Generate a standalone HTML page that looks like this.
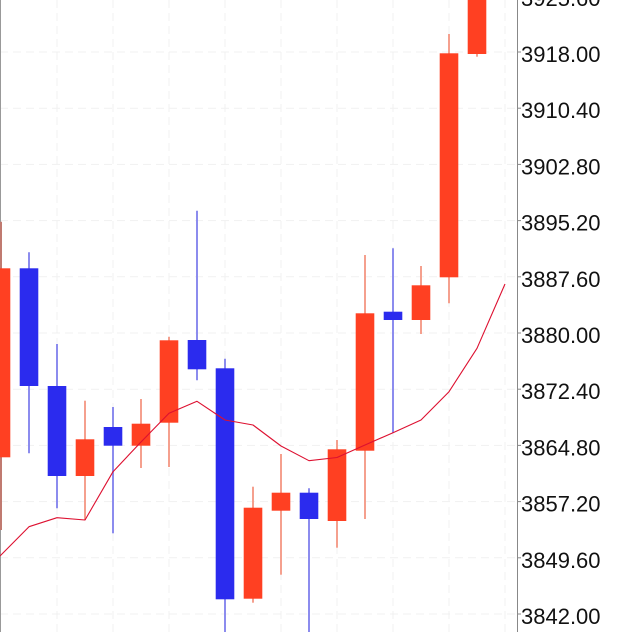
<!DOCTYPE html>
<html>
<head>
<meta charset="utf-8">
<style>
  html,body{margin:0;padding:0;background:#fff;}
  svg{display:block;}
  text{font-family:"Liberation Sans",sans-serif;font-size:22px;fill:#111;}
</style>
</head>
<body>
<svg width="632" height="632" viewBox="0 0 632 632" xmlns="http://www.w3.org/2000/svg">
  <rect x="0" y="0" width="632" height="632" fill="#fff"/>
  <!-- grid -->
  <g stroke="#f1f1f1" stroke-width="1" stroke-dasharray="8 5">
    <line x1="0" y1="52" x2="517" y2="52"/>
    <line x1="0" y1="108.2" x2="517" y2="108.2"/>
    <line x1="0" y1="164.4" x2="517" y2="164.4"/>
    <line x1="0" y1="220.6" x2="517" y2="220.6"/>
    <line x1="0" y1="276.8" x2="517" y2="276.8"/>
    <line x1="0" y1="333" x2="517" y2="333"/>
    <line x1="0" y1="389.2" x2="517" y2="389.2"/>
    <line x1="0" y1="445.4" x2="517" y2="445.4"/>
    <line x1="0" y1="501.6" x2="517" y2="501.6"/>
    <line x1="0" y1="557.8" x2="517" y2="557.8"/>
    <line x1="0" y1="614" x2="517" y2="614"/>
    <line x1="57" y1="0" x2="57" y2="632"/>
    <line x1="113" y1="0" x2="113" y2="632"/>
    <line x1="169" y1="0" x2="169" y2="632"/>
    <line x1="225" y1="0" x2="225" y2="632"/>
    <line x1="281" y1="0" x2="281" y2="632"/>
    <line x1="337" y1="0" x2="337" y2="632"/>
    <line x1="393" y1="0" x2="393" y2="632"/>
    <line x1="449" y1="0" x2="449" y2="632"/>
    <line x1="505" y1="0" x2="505" y2="632"/>
  </g>
  <!-- left edge line -->
  <line x1="0.5" y1="0" x2="0.5" y2="632" stroke="#999" stroke-width="1"/>

  <!-- wicks -->
  <g stroke-width="2">
    <line x1="1" y1="221.7" x2="1" y2="530" stroke="#c07a70"/>
    <line x1="29" y1="252.3" x2="29" y2="453.3" stroke="#8c8cee"/>
    <line x1="57" y1="344" x2="57" y2="508.3" stroke="#8c8cee"/>
    <line x1="85" y1="400.7" x2="85" y2="520" stroke="#f5a08e"/>
    <line x1="113" y1="407" x2="113" y2="533.3" stroke="#8c8cee"/>
    <line x1="141" y1="399" x2="141" y2="468" stroke="#f5a08e"/>
    <line x1="169" y1="336.7" x2="169" y2="467" stroke="#f5a08e"/>
    <line x1="197" y1="210.7" x2="197" y2="380.3" stroke="#8c8cee"/>
    <line x1="225" y1="358.7" x2="225" y2="632" stroke="#8c8cee"/>
    <line x1="253" y1="486.7" x2="253" y2="602.7" stroke="#f5a08e"/>
    <line x1="281" y1="454" x2="281" y2="574.7" stroke="#f5a08e"/>
    <line x1="309" y1="488.3" x2="309" y2="632" stroke="#8c8cee"/>
    <line x1="337" y1="440" x2="337" y2="547.7" stroke="#f5a08e"/>
    <line x1="365" y1="255" x2="365" y2="519" stroke="#f5a08e"/>
    <line x1="393" y1="248.3" x2="393" y2="432.7" stroke="#8c8cee"/>
    <line x1="421" y1="266" x2="421" y2="334" stroke="#f5a08e"/>
    <line x1="449" y1="34" x2="449" y2="303.3" stroke="#f5a08e"/>
    <line x1="477" y1="0" x2="477" y2="56.7" stroke="#f5a08e"/>
  </g>

  <!-- bodies -->
  <g>
    <rect x="-8.3" y="268.3" width="18.6" height="189" fill="#ff4022"/>
    <rect x="19.7" y="268.3" width="18.6" height="117.7" fill="#2b2bee"/>
    <rect x="47.7" y="386" width="18.6" height="90" fill="#2b2bee"/>
    <rect x="75.7" y="439.3" width="18.6" height="36.7" fill="#ff4022"/>
    <rect x="103.7" y="427" width="18.6" height="18.7" fill="#2b2bee"/>
    <rect x="131.7" y="423.7" width="18.6" height="22" fill="#ff4022"/>
    <rect x="159.7" y="340.3" width="18.6" height="82.4" fill="#ff4022"/>
    <rect x="187.7" y="340" width="18.6" height="29.3" fill="#2b2bee"/>
    <rect x="215.7" y="368.3" width="18.6" height="231" fill="#2b2bee"/>
    <rect x="243.7" y="507.7" width="18.6" height="91" fill="#ff4022"/>
    <rect x="271.7" y="492.7" width="18.6" height="18" fill="#ff4022"/>
    <rect x="299.7" y="492.7" width="18.6" height="26.3" fill="#2b2bee"/>
    <rect x="327.7" y="449.3" width="18.6" height="71.7" fill="#ff4022"/>
    <rect x="355.7" y="313.3" width="18.6" height="137.4" fill="#ff4022"/>
    <rect x="383.7" y="311.7" width="18.6" height="8.3" fill="#2b2bee"/>
    <rect x="411.7" y="285.3" width="18.6" height="34.7" fill="#ff4022"/>
    <rect x="439.7" y="53.3" width="18.6" height="224" fill="#ff4022"/>
    <rect x="467.7" y="-10" width="18.6" height="64" fill="#ff4022"/>
  </g>

  <!-- MA line -->
  <polyline fill="none" stroke="#dd1030" stroke-width="1.1" stroke-linejoin="round"
    points="0,556 29,526.7 57,517.7 85,520 113,471.7 141,442 169,413.3 197,401.3 225,420 253,425 281,446 309,460.7 337,457.5 365,445 393,432.7 421,420 449,391.7 477,348.3 505,284"/>

  <!-- right axis -->
  <rect x="517" y="0" width="115" height="632" fill="#fff"/>
  <line x1="517.5" y1="0" x2="517.5" y2="632" stroke="#888" stroke-width="1"/>
  <g stroke="#888" stroke-width="1">
    <line x1="517" y1="-4.2" x2="521" y2="-4.2"/>
    <line x1="517" y1="52" x2="521" y2="52"/>
    <line x1="517" y1="108.2" x2="521" y2="108.2"/>
    <line x1="517" y1="164.4" x2="521" y2="164.4"/>
    <line x1="517" y1="220.6" x2="521" y2="220.6"/>
    <line x1="517" y1="276.8" x2="521" y2="276.8"/>
    <line x1="517" y1="333" x2="521" y2="333"/>
    <line x1="517" y1="389.2" x2="521" y2="389.2"/>
    <line x1="517" y1="445.4" x2="521" y2="445.4"/>
    <line x1="517" y1="501.6" x2="521" y2="501.6"/>
    <line x1="517" y1="557.8" x2="521" y2="557.8"/>
    <line x1="517" y1="614" x2="521" y2="614"/>
  </g>
  <g>
    <text x="521" y="5.8">3925.60</text>
    <text x="521" y="62">3918.00</text>
    <text x="521" y="118.2">3910.40</text>
    <text x="521" y="174.4">3902.80</text>
    <text x="521" y="230.6">3895.20</text>
    <text x="521" y="286.8">3887.60</text>
    <text x="521" y="343">3880.00</text>
    <text x="521" y="399.2">3872.40</text>
    <text x="521" y="455.4">3864.80</text>
    <text x="521" y="511.6">3857.20</text>
    <text x="521" y="567.8">3849.60</text>
    <text x="521" y="624">3842.00</text>
  </g>
</svg>
</body>
</html>
